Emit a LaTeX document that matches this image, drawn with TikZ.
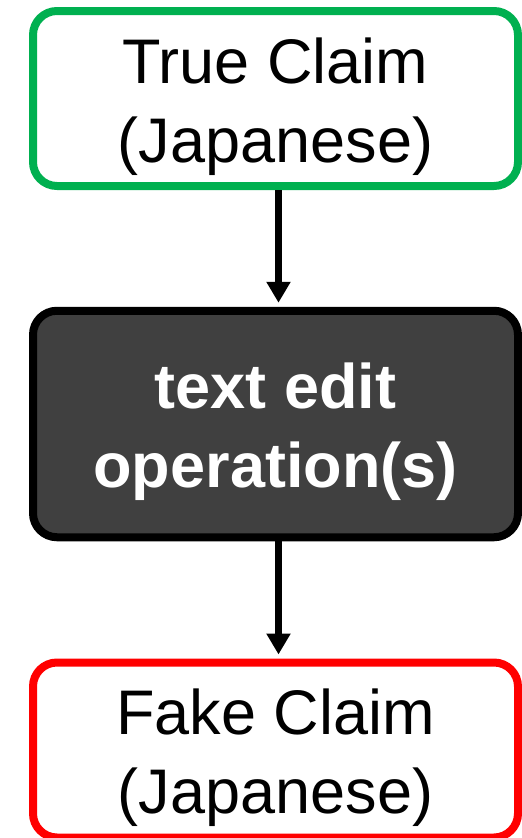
\documentclass[tikz,border=0pt]{standalone}
\usepackage{fontspec}
\setmainfont{Liberation Sans}
\usetikzlibrary{arrows.meta}
\definecolor{boxgreen}{RGB}{0,176,80}
\definecolor{boxred}{RGB}{255,0,0}
\definecolor{opfill}{RGB}{64,64,64}
\begin{document}
\begin{tikzpicture}[x=1pt,y=1pt,
  box/.style={rectangle, rounded corners=24pt, line width=8pt, minimum width=485pt,
    inner sep=0pt, align=center, font=\fontsize{63}{79}\selectfont,
    text height=140pt, text depth=13pt},
  claim/.style={box, minimum height=175pt, fill=white},
  opbox/.style={box, minimum height=226.5pt, fill=opfill, draw=black, text=white,
    font=\fontsize{63}{79}\selectfont\bfseries},
  flow/.style={line width=7pt, -{Triangle[width=23pt,length=21pt]}, shorten >=4pt}]
\useasboundingbox (0,0) rectangle (522,-838);
\node[claim, draw=boxgreen] (true) at (275.5,-98.5) {True Claim\\(Japanese)};
\node[opbox] (op) at (275.5,-424) {text edit\\operation(s)};
\node[claim, draw=boxred] (fake) at (275.5,-750) {Fake Claim\\(Japanese)};
\draw[flow] ([xshift=3pt]true.south) -- ([xshift=3pt]op.north);
\draw[flow] ([xshift=3pt]op.south) -- ([xshift=3pt]fake.north);
\end{tikzpicture}
\end{document}
